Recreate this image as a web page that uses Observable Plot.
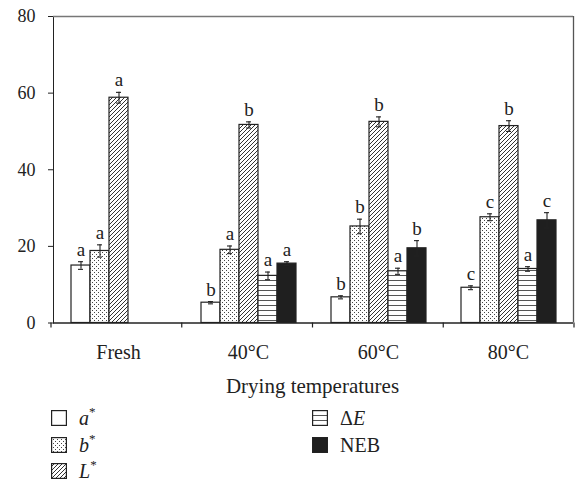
<!DOCTYPE html>
<html>
<head>
<meta charset="utf-8">
<script src="https://cdn.jsdelivr.net/npm/d3@7"></script>
<script src="https://cdn.jsdelivr.net/npm/@observablehq/plot@0.6"></script>
<style>
  html, body { margin: 0; padding: 0; background: #fff; }
  body { width: 576px; height: 484px; overflow: hidden; font-family: "Liberation Serif", "DejaVu Serif", serif; color: #222; }
  #chart svg { display: block; }
  [aria-label^="y-axis"] text { font-size: 18px; }
  .legend { position: relative; height: 78px; font-size: 20px; font-family: "Liberation Serif", "DejaVu Serif", serif; }
  .item { position: absolute; display: flex; align-items: center; height: 20px; }
  .item svg { display: block; margin-right: 12px; }
  .item span { font-family: "Liberation Serif", "DejaVu Serif", serif; }
  .it { font-style: italic; }
  sup { font-size: 13px; font-style: normal; vertical-align: 9px; line-height: 0; }
</style>
</head>
<body>
<svg width="0" height="0" style="position:absolute">
  <defs>
    <pattern id="pDots" width="4" height="4" patternUnits="userSpaceOnUse">
      <rect width="4" height="4" fill="#fff"/>
      <rect x="0" y="0" width="1" height="1" fill="#444"/>
      <rect x="2" y="2" width="1" height="1" fill="#444"/>
    </pattern>
    <pattern id="pDiag" width="4" height="4" patternUnits="userSpaceOnUse">
      <rect width="4" height="4" fill="#fff"/>
      <path d="M-1,1 L1,-1 M0,4 L4,0 M3,5 L5,3" stroke="#333" stroke-width="1"/>
    </pattern>
    <pattern id="pHoriz" width="5" height="5" patternUnits="userSpaceOnUse">
      <rect width="5" height="5" fill="#fff"/>
      <line x1="0" y1="0.5" x2="5" y2="0.5" stroke="#555" stroke-width="1"/>
    </pattern>
  </defs>
</svg>
<div id="chart"></div>
<div class="legend" id="legend"></div>
<script>
// ---- data ----
const groups = ["Fresh", "40°C", "60°C", "80°C"];
const series = ["a*", "b*", "L*", "ΔE", "NEB"];
const aStar   = [15.0, 5.3, 6.7, 9.2];
const aErr    = [1.0, 0.3, 0.4, 0.5];
const aLet    = ["a", "b", "b", "c"];
const bStar   = [18.8, 19.1, 25.2, 27.6];
const bErr    = [1.6, 1.0, 1.9, 0.9];
const bLet    = ["a", "a", "b", "c"];
const LStar   = [58.8, 51.7, 52.5, 51.4];
const LErr    = [1.4, 0.8, 1.3, 1.4];
const LLet    = ["a", "b", "b", "b"];
const dE      = [null, 12.3, 13.5, 14.1];
const dEErr   = [null, 1.0, 0.8, 0.6];
const dELet   = [null, "a", "a", "a"];
const NEB     = [null, 15.5, 19.5, 26.8];
const NEBErr  = [null, 0.5, 2.0, 2.0];
const NEBLet  = [null, "a", "b", "c"];
const yTicks  = [0, 20, 40, 60, 80];
const xLabel  = "Drying temperatures";

const valueSets  = [aStar, bStar, LStar, dE, NEB];
const errSets    = [aErr, bErr, LErr, dEErr, NEBErr];
const letterSets = [aLet, bLet, LLet, dELet, NEBLet];
const fills = ["#ffffff", "url(#pDots)", "url(#pDiag)", "url(#pHoriz)", "#1f1f1f"];

const rows = [];
groups.forEach((g, gi) => {
  series.forEach((s, si) => {
    const v = valueSets[si][gi];
    if (v == null) return;
    rows.push({group: g, series: s, v, e: errSets[si][gi], letter: letterSets[si][gi]});
  });
});

const chart = Plot.plot({
  width: 576,
  height: 406,
  marginLeft: 51,
  marginRight: 2,
  marginTop: 16,
  marginBottom: 83.5,
  style: {fontFamily: "Liberation Serif, DejaVu Serif, serif", fontSize: "20px", color: "#222", background: "#fff"},
  facet: {data: rows, x: "group"},
  fx: {domain: groups, padding: 0, tickSize: 0, tickPadding: 22, label: null},
  x: {domain: series, paddingInner: 0, paddingOuter: 0.77, axis: null},
  y: {domain: [0, 80], ticks: yTicks, tickSize: 5, tickPadding: 13, label: null, line: true, tickFormat: d => d},
  color: {type: "ordinal", domain: series, range: fills},
  marks: [
    Plot.ruleY([80], {stroke: "#777", strokeWidth: 1.5}),
    Plot.barY(rows, {x: "series", y: "v", fill: "series", stroke: "#222", strokeWidth: 1.2}),
    Plot.ruleX(rows, {x: "series", y1: d => d.v - d.e, y2: d => d.v + d.e, stroke: "#222", strokeWidth: 1.1}),
    Plot.tickY(rows, {x: "series", y: d => d.v + d.e, stroke: "#222", strokeWidth: 1.1, insetLeft: 7, insetRight: 7}),
    Plot.tickY(rows, {x: "series", y: d => d.v - d.e, stroke: "#222", strokeWidth: 1.1, insetLeft: 7, insetRight: 7}),
    Plot.text(rows, {x: "series", y: d => d.v + d.e, text: "letter", lineAnchor: "bottom", dy: -6, fontSize: 19, fill: "#222"}),
    Plot.ruleY([0], {stroke: "#222", strokeWidth: 1.3})
  ]
});
document.getElementById("chart").appendChild(chart);

const svg = d3.select(chart);
const fx = chart.scale("fx");
const y = chart.scale("y");
const [r0, r1] = fx.range;
const step = (r1 - r0) / groups.length;
const y0 = y.apply(0), yTop = y.apply(80);

// x-axis title, centred under the facet range
svg.append("text").attr("x", (r0 + r1) / 2).attr("y", y0 + 70)
  .attr("text-anchor", "middle").attr("font-size", 21).attr("fill", "#222")
  .text(xLabel);

// group-boundary ticks and right border from the fx scale
d3.range(groups.length + 1).forEach(i => {
  svg.append("line").attr("x1", r0 + i * step).attr("x2", r0 + i * step)
    .attr("y1", y0).attr("y2", y0 + 5).attr("stroke", "#222").attr("stroke-width", 1.2);
});
svg.append("line").attr("x1", r1 - 0.5).attr("x2", r1 - 0.5).attr("y1", yTop).attr("y2", y0)
  .attr("stroke", "#555").attr("stroke-width", 1.3);

// legend
const legendItems = [
  {html: '<span class="it">a</span><sup>*</sup>', fill: fills[0], left: 51, top: 2},
  {html: '<span class="it">b</span><sup>*</sup>', fill: fills[1], left: 51, top: 29},
  {html: '<span class="it">L</span><sup>*</sup>', fill: fills[2], left: 51, top: 55},
  {html: 'Δ<span class="it">E</span>', fill: fills[3], left: 312, top: 2},
  {html: 'NEB', fill: fills[4], left: 312, top: 29}
];
const leg = document.getElementById("legend");
legendItems.forEach(it => {
  const d = document.createElement("div");
  d.className = "item";
  d.style.left = it.left + "px";
  d.style.top = it.top + "px";
  d.innerHTML = `<svg width="16" height="16"><rect x="0.6" y="0.6" width="14.8" height="14.8" fill="${it.fill}" stroke="#222" stroke-width="1.2"/></svg><span>${it.html}</span>`;
  leg.appendChild(d);
});
</script>
</body>
</html>
